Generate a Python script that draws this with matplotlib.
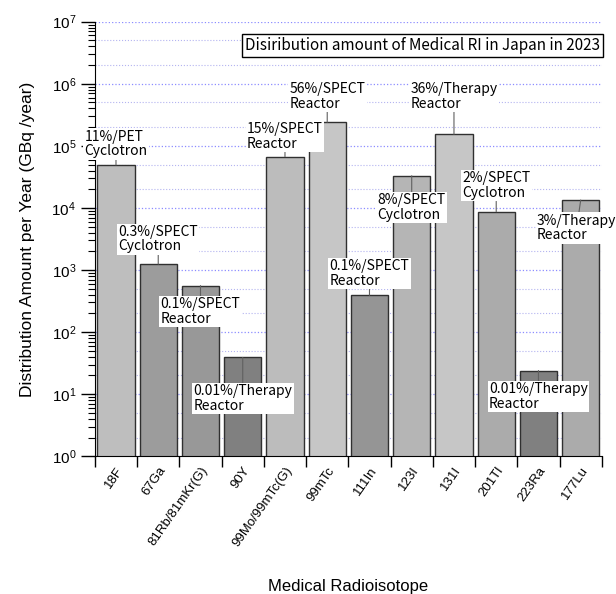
import matplotlib
matplotlib.use("Agg")
import matplotlib.pyplot as plt
from matplotlib.ticker import LogLocator, NullFormatter
import numpy as np

plt.rcParams['font.family'] = ['Liberation Sans', 'DejaVu Sans']

# distribution amount per year (GBq/year), 2023
isotopes = ['18F', '67Ga', '81Rb/81mKr(G)', '90Y', '99Mo/99mTc(G)', '99mTc',
            '111In', '123I', '131I', '201Tl', '223Ra', '177Lu']
amounts = [4.9e4, 1.24e3, 5.6e2, 39, 6.7e4, 2.4e5,
           3.9e2, 3.3e4, 1.53e5, 8.7e3, 24, 1.34e4]
tags = ['11%/PET\nCyclotron', '0.3%/SPECT\nCyclotron', '0.1%/SPECT\nReactor',
        '0.01%/Therapy\nReactor', '15%/SPECT\nReactor', '56%/SPECT\nReactor',
        '0.1%/SPECT\nReactor', '8%/SPECT\nCyclotron', '36%/Therapy\nReactor',
        '2%/SPECT\nCyclotron', '0.01%/Therapy\nReactor', '3%/Therapy\nReactor']
bar_colors = ['#bebebe', '#9c9c9c', '#989898', '#808080', '#bcbcbc', '#c6c6c6',
              '#959595', '#b5b5b5', '#c6c6c6', '#ababab', '#808080', '#ababab']
# offset (pixels) of each tag from the top of its bar
tag_dx = [0, 0, 0, 0, 0, 0, 0, 0, 0, 0, 0, -4]
tag_dy = [21, 25, -26, -41, 20, 26, 22, -32, 38, 26, -26, -28]

fig = plt.figure(figsize=(6.16, 5.94), dpi=100)
ax = fig.add_axes([0.154, 0.232, 0.823, 0.7315])

x = np.arange(len(isotopes))
ax.bar(x, amounts, width=0.88, color=bar_colors, edgecolor='#303030',
       linewidth=1.0, zorder=2)

ax.set_yscale('log')
ax.set_ylim(1, 1e7)
ax.set_xlim(-0.5, len(isotopes) - 0.5)

ax.yaxis.set_major_locator(LogLocator(base=10, numticks=10))
ax.yaxis.set_minor_locator(LogLocator(base=10, subs=np.arange(2, 10), numticks=20))
ax.yaxis.set_minor_formatter(NullFormatter())
ax.tick_params(axis='y', which='major', length=10, width=1, labelsize=11, direction='out')
ax.tick_params(axis='y', which='minor', length=5, width=0.8, direction='out')

# category labels at centres, tick marks at the boundaries
ax.set_xticks(x)
ax.set_xticklabels(isotopes, rotation=55, ha='right', rotation_mode='anchor', fontsize=9.5)
ax.set_xticks(np.arange(len(isotopes) + 1) - 0.5, minor=True)
ax.tick_params(axis='x', which='major', length=0, pad=6)
ax.tick_params(axis='x', which='minor', length=8, width=1, direction='out')

ax.spines['top'].set_visible(False)
ax.spines['right'].set_visible(False)

# dotted grid: decades plus the 2x and 5x lines
ax.set_axisbelow(True)
ax.grid(True, axis='y', which='major', color='#8c8cff', linestyle=':', linewidth=0.9)
for dec in range(7):
    for m in (2, 5):
        ax.axhline(m * 10.0 ** dec, color='#b4b4f0', linestyle=':', linewidth=0.8, zorder=0)

ax.set_ylabel('Distribution Amount per Year (GBq /year)', fontsize=12.5, labelpad=12)
ax.set_xlabel('Medical Radioisotope', fontsize=12)
ax.xaxis.set_label_coords(0.5, -0.30)
ax.xaxis.label.set_va('center')

for xi, val, txt, dx, dy in zip(x, amounts, tags, tag_dx, tag_dy):
    ax.annotate(txt, xy=(xi, val), xytext=(dx, dy), textcoords='offset pixels',
                ha='center', va='center', multialignment='left', fontsize=10,
                family=['Noto Sans CJK JP', 'DejaVu Sans'], linespacing=1.05,
                bbox=dict(boxstyle='square,pad=0.1', fc='white', ec='none'),
                arrowprops=dict(arrowstyle='-', color='#606060', lw=0.8,
                                shrinkA=0, shrinkB=0),
                zorder=4)

ax.text(0.997, 0.946, 'Disiribution amount of Medical RI in Japan in 2023',
        transform=ax.transAxes, ha='right', va='center', fontsize=11,
        family=['Noto Sans CJK JP', 'DejaVu Sans'],
        bbox=dict(boxstyle='square,pad=0.2', fc='white', ec='black', lw=1),
        zorder=5)

fig.savefig('out.png', dpi=100)
